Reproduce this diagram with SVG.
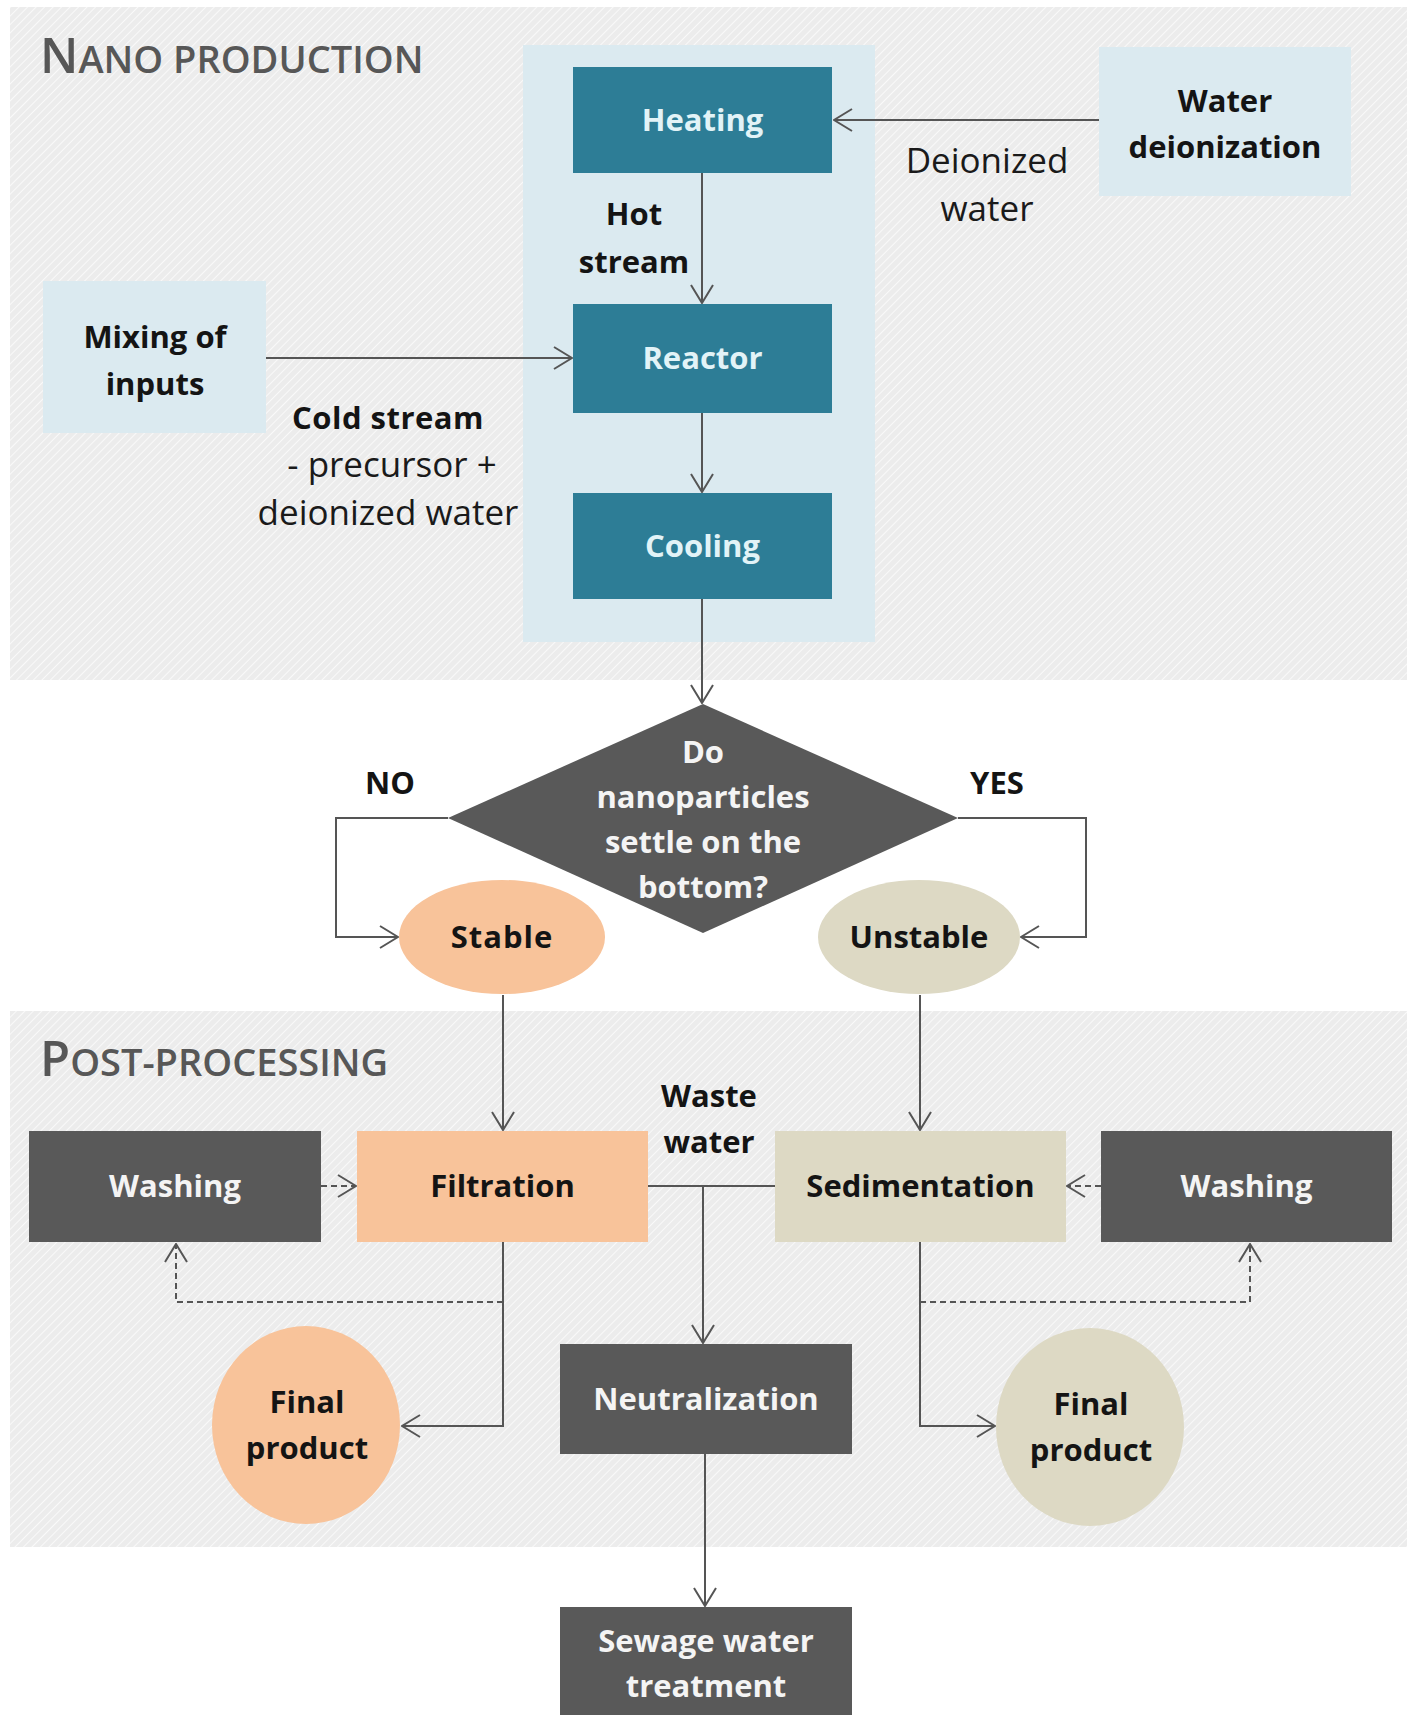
<svg xmlns="http://www.w3.org/2000/svg" width="1416" height="1715" viewBox="0 0 1416 1715">
<style>
text{font-family:'Open Sans','Liberation Sans',sans-serif;text-anchor:middle}
.b{font-weight:700;font-size:31px;fill:#141414}
.r{font-weight:400;font-size:35px;fill:#1a1a1a}
.w{fill:#f4f4f4}
.t{fill:#e2f3f7}
.title{font-weight:600;font-size:38px;fill:#575757;text-anchor:start}
.c{stroke:#555;stroke-width:2;fill:none}
.d{stroke-dasharray:6 4}
.teal{fill:#2d7d96}
.dark{fill:#595959}
.lb{fill:#dbeaf0}
.or{fill:#f8c39a}
.be{fill:#ddd9c4}
</style>
<defs>
<pattern id="hatch" width="6" height="6" patternUnits="userSpaceOnUse" patternTransform="rotate(45)">
<rect width="6" height="6" fill="#ececec"/>
<line x1="0" y1="0" x2="0" y2="6" stroke="#f9f9f9" stroke-width="2"/>
</pattern>
<marker id="ah" viewBox="0 0 20 24" markerWidth="20" markerHeight="24" refX="19" refY="12" orient="auto" markerUnits="userSpaceOnUse">
<path d="M1,1 L19,12 L1,23" fill="none" stroke="#555" stroke-width="2"/>
</marker>
</defs>
<rect width="1416" height="1715" fill="#ffffff"/>

<g id="panel-nano">
<rect x="10" y="7" width="1397" height="673" fill="url(#hatch)"/>
<text class="title" x="40" y="73"><tspan font-size="49">N</tspan>ANO PRODUCTION</text>
<rect x="523" y="45" width="352" height="597" class="lb"/>
</g>

<g id="panel-post">
<rect x="10" y="1011" width="1397" height="536" fill="url(#hatch)"/>
<text class="title" x="40" y="1076"><tspan font-size="49">P</tspan>OST-PROCESSING</text>
</g>

<g id="connectors">
<line class="c" x1="1099" y1="120" x2="834" y2="120" marker-end="url(#ah)"/>
<line class="c" x1="702" y1="173" x2="702" y2="303" marker-end="url(#ah)"/>
<line class="c" x1="266" y1="358" x2="572" y2="358" marker-end="url(#ah)"/>
<line class="c" x1="702" y1="413" x2="702" y2="492" marker-end="url(#ah)"/>
<line class="c" x1="702" y1="599" x2="702" y2="703" marker-end="url(#ah)"/>
<polyline class="c" points="448,818 336,818 336,937 398,937" marker-end="url(#ah)"/>
<polyline class="c" points="958,818 1086,818 1086,937 1021,937" marker-end="url(#ah)"/>
<line class="c" x1="503" y1="995" x2="503" y2="1130" marker-end="url(#ah)"/>
<line class="c" x1="920" y1="995" x2="920" y2="1130" marker-end="url(#ah)"/>
<line class="c d" x1="321" y1="1186" x2="356" y2="1186" marker-end="url(#ah)"/>
<line class="c d" x1="1101" y1="1186" x2="1067" y2="1186" marker-end="url(#ah)"/>
<polyline class="c d" points="503,1242 503,1302 176,1302 176,1244" marker-end="url(#ah)"/>
<polyline class="c d" points="920,1242 920,1302 1250,1302 1250,1244" marker-end="url(#ah)"/>
<polyline class="c" points="503,1242 503,1426 402,1426" marker-end="url(#ah)"/>
<polyline class="c" points="920,1242 920,1426 995,1426" marker-end="url(#ah)"/>
<line class="c" x1="648" y1="1186" x2="775" y2="1186"/>
<line class="c" x1="703" y1="1186" x2="703" y2="1343" marker-end="url(#ah)"/>
<line class="c" x1="705" y1="1454" x2="705" y2="1606" marker-end="url(#ah)"/>
</g>

<g id="labels">
<text class="b" x="634" y="225">Hot</text>
<text class="b" x="634" y="273">stream</text>
<text class="r" x="987" y="173">Deionized</text>
<text class="r" x="987" y="221">water</text>
<text class="b" x="388" y="429" font-size="33" letter-spacing="0.5">Cold stream</text>
<text class="r" x="392" y="477">- precursor +</text>
<text class="r" x="388" y="525">deionized water</text>
<text class="b" x="390" y="794">NO</text>
<text class="b" x="997" y="794">YES</text>
<text class="b" x="709" y="1107">Waste</text>
<text class="b" x="709" y="1153">water</text>
</g>

<g id="node-heating">
<rect x="573" y="67" width="259" height="106" class="teal"/>
<text class="b t" x="702.5" y="131">Heating</text>
</g>
<g id="node-reactor">
<rect x="573" y="304" width="259" height="109" class="teal"/>
<text class="b t" x="702.5" y="369">Reactor</text>
</g>
<g id="node-cooling">
<rect x="573" y="493" width="259" height="106" class="teal"/>
<text class="b t" x="702.5" y="557">Cooling</text>
</g>
<g id="node-mixing">
<rect x="43" y="281" width="223" height="152" class="lb"/>
<text class="b" x="155" y="348">Mixing of</text>
<text class="b" x="155" y="395">inputs</text>
</g>
<g id="node-water-deionization">
<rect x="1099" y="47" width="252" height="149" class="lb"/>
<text class="b" x="1225" y="112">Water</text>
<text class="b" x="1225" y="158">deionization</text>
</g>
<g id="node-decision">
<polygon points="703,704 958,818 703,933 448,818" class="dark"/>
<text class="b w" x="703" y="763">Do</text>
<text class="b w" x="703" y="808">nanoparticles</text>
<text class="b w" x="703" y="853">settle on the</text>
<text class="b w" x="703" y="898">bottom?</text>
</g>
<g id="node-stable">
<ellipse cx="502" cy="937" rx="103" ry="57" class="or"/>
<text class="b" x="502" y="948" font-size="33" letter-spacing="1">Stable</text>
</g>
<g id="node-unstable">
<ellipse cx="919" cy="937" rx="101" ry="57" class="be"/>
<text class="b" x="919" y="948">Unstable</text>
</g>
<g id="node-washing-left">
<rect x="29" y="1131" width="292" height="111" class="dark"/>
<text class="b w" x="175" y="1197">Washing</text>
</g>
<g id="node-filtration">
<rect x="357" y="1131" width="291" height="111" class="or"/>
<text class="b" x="502.5" y="1197">Filtration</text>
</g>
<g id="node-sedimentation">
<rect x="775" y="1131" width="291" height="111" class="be"/>
<text class="b" x="920.5" y="1197">Sedimentation</text>
</g>
<g id="node-washing-right">
<rect x="1101" y="1131" width="291" height="111" class="dark"/>
<text class="b w" x="1246.5" y="1197">Washing</text>
</g>
<g id="node-final-left">
<ellipse cx="306" cy="1425" rx="94" ry="99" class="or"/>
<text class="b" x="307" y="1413">Final</text>
<text class="b" x="307" y="1459">product</text>
</g>
<g id="node-final-right">
<ellipse cx="1090" cy="1427" rx="94" ry="99" class="be"/>
<text class="b" x="1091" y="1415">Final</text>
<text class="b" x="1091" y="1461">product</text>
</g>
<g id="node-neutralization">
<rect x="560" y="1344" width="292" height="110" class="dark"/>
<text class="b w" x="706" y="1410">Neutralization</text>
</g>
<g id="node-sewage">
<rect x="560" y="1607" width="292" height="108" class="dark"/>
<text class="b w" x="706" y="1652">Sewage water</text>
<text class="b w" x="706" y="1697">treatment</text>
</g>
</svg>
